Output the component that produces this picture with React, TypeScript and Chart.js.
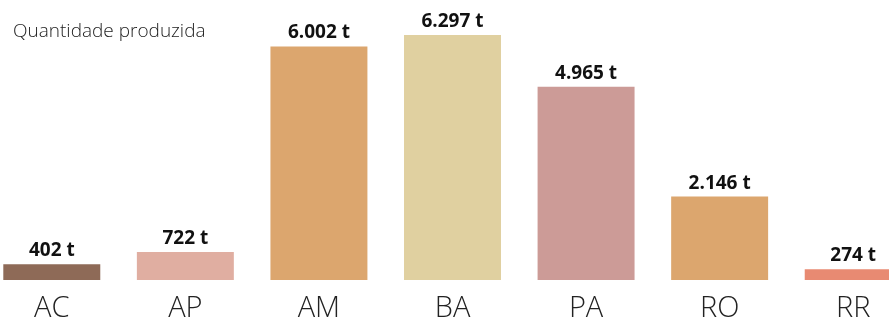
import React, { useEffect, useRef } from "react";
import { Chart, registerables } from "chart.js";

Chart.register(...registerables);

const categories = ["AC", "AP", "AM", "BA", "PA", "RO", "RR"];
const values = [402, 722, 6002, 6297, 4965, 2146, 274];
const barColors = ["#8e6a57", "#e0aea1", "#dca66e", "#e0d0a0", "#cc9b97", "#dca66e", "#e88a72"];
const titleText = "Quantidade produzida";
const unit = "t";

function fmt(v: number): string {
  return String(v).replace(/\B(?=(\d{3})+(?!\d))/g, ".") + " " + unit;
}

const valueLabels = {
  id: "valueLabels",
  afterDatasetsDraw(chart: any) {
    const ctx = chart.ctx;
    const meta = chart.getDatasetMeta(0);
    ctx.save();
    ctx.font = "bold 19px 'Open Sans'";
    ctx.fillStyle = "#111";
    ctx.textAlign = "center";
    ctx.textBaseline = "alphabetic";
    meta.data.forEach((el: any, i: number) => {
      ctx.fillText(fmt(values[i]), el.x, el.y - 8);
    });
    ctx.restore();
  },
};

export default function App() {
  const ref = useRef<HTMLCanvasElement>(null);
  useEffect(() => {
    if (!ref.current) return;
    const chart = new Chart(ref.current, {
      type: "bar",
      data: {
        labels: categories,
        datasets: [
          {
            data: values,
            backgroundColor: barColors,
            borderWidth: 0,
            categoryPercentage: 1,
            barPercentage: 0.726,
          },
        ],
      },
      options: {
        responsive: false,
        animation: false,
        layout: { padding: { top: 15, left: 0, right: 0, bottom: 0 } },
        plugins: { legend: { display: false }, tooltip: { enabled: false } },
        scales: {
          x: {
            grid: { display: false, drawTicks: false },
            border: { display: false },
            ticks: {
              color: "#222",
              font: { family: "'Open Sans'", size: 29, weight: "300" as any },
              padding: 11,
              maxRotation: 0,
            },
            afterFit(scale: any) {
              scale.height = 40;
            },
          },
          y: {
            display: false,
            min: 0,
            max: 6811,
          },
        },
      },
      plugins: [valueLabels],
    });
    return () => chart.destroy();
  }, []);
  return (
    <div
      style={{
        position: "fixed",
        left: 0,
        top: 0,
        width: 889,
        height: 320,
        overflow: "hidden",
        background: "#fff",
      }}
    >
      <canvas
        ref={ref}
        width={935}
        height={320}
        style={{ position: "absolute", left: -15, top: 0, width: 935, height: 320 }}
      />
      <div
        style={{
          position: "absolute",
          left: 13,
          top: 21,
          fontFamily: "'Open Sans'",
          fontWeight: 300,
          fontSize: 19,
          lineHeight: "19px",
          color: "#222",
          whiteSpace: "nowrap",
        }}
      >
        {titleText}
      </div>
    </div>
  );
}
